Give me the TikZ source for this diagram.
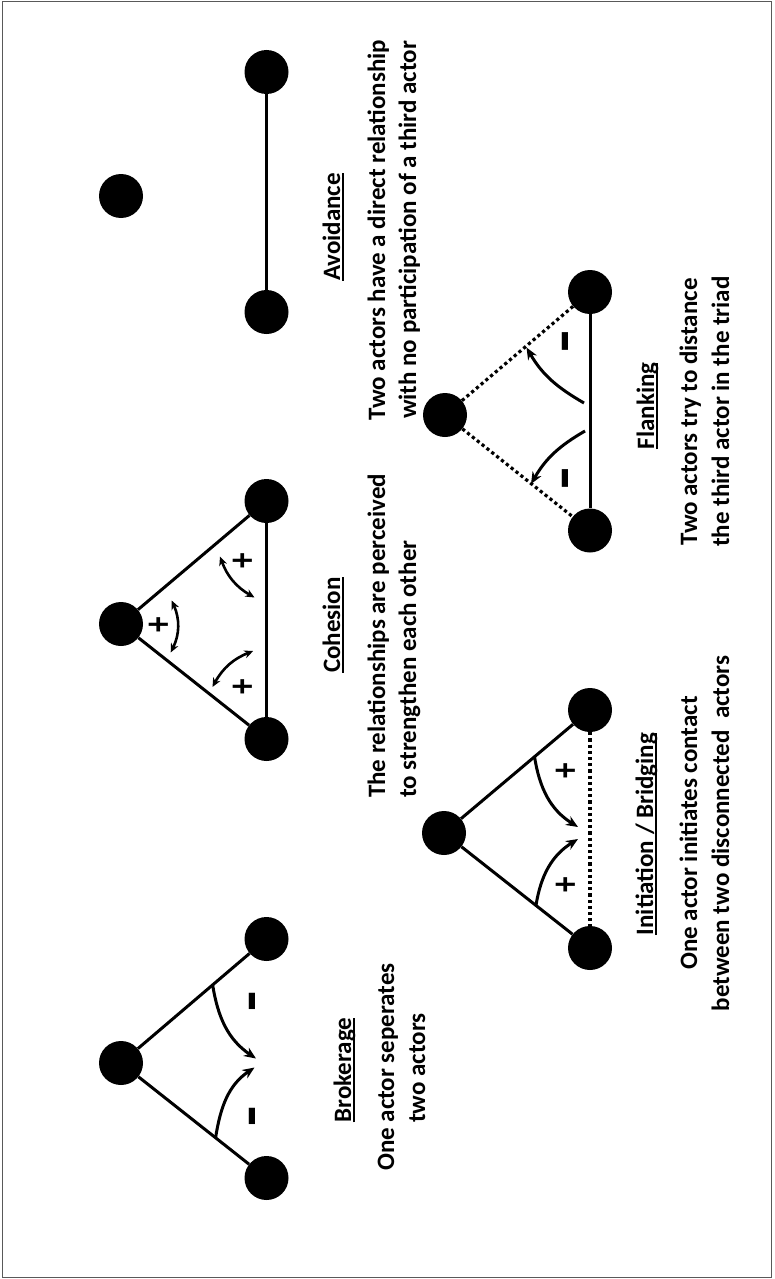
\documentclass[tikz,border=0pt]{standalone}
\usepackage{fontspec}
\setmainfont{Carlito}
\usetikzlibrary{arrows.meta,calc}
\newsavebox\ulsave
\newcommand{\myul}[1]{\sbox\ulsave{#1}\rlap{\rule[-3.5pt]{\wd\ulsave}{1.8pt}}\usebox\ulsave}
\begin{document}
\begin{tikzpicture}[x=1pt,y=1pt,
  actor/.style={circle,fill=black,minimum size=44pt,inner sep=0pt},
  tie/.style={line width=3pt},
  weak/.style={line width=3.2pt,dash pattern=on 3.2pt off 3pt},
  push/.style={line width=3pt,-{Stealth[length=12pt,width=10pt]}},
  mutual/.style={line width=2.6pt,{Stealth[length=9pt,width=8pt]}-{Stealth[length=9pt,width=8pt]}},
  lbl/.style={rotate=90,anchor=base,font=\fontsize{25}{31}\selectfont\bfseries,inner sep=0pt},
  lblw/.style={lbl,anchor=base west},
  plus/.style={rotate=90,inner sep=0pt,font=\fontsize{31}{31}\selectfont\bfseries},
  minus/.style={rotate=90,inner sep=0pt,font=\fontsize{30}{30}\selectfont\bfseries}]
\useasboundingbox (0,0) rectangle (774,-1279);
\draw[black!65,line width=1.2pt] (2.5,-1.5) rectangle (771.5,-1277.5);

% Avoidance
\node[actor] (a1) at (266.5,-72) {};
\node[actor] (a2) at (266.5,-312) {};
\node[actor] (a3) at (121,-196) {};
\draw[tie] (a1) -- (a2);
\node[lbl] (avt) at (340,-227) {\myul{Avoidance}};
\node[lbl] (av1) at (385,-230) {Two actors have a direct relationship};
\node[lbl] (av2) at (416,-230) {with no participation of a third actor};

% Cohesion
\node[actor] (c1) at (266.5,-501) {};
\node[actor] (c2) at (121,-624) {};
\node[actor] (c3) at (266.5,-739) {};
\draw[tie] (c2) -- (c1);
\draw[tie] (c2) -- (c3);
\draw[tie] (c1) -- (c3);
\coordinate (cm1a) at (171.7,-600.5);
\coordinate (cm1b) at (170.7,-652.5);
\coordinate (cm2a) at (220,-556.5);
\coordinate (cm2b) at (254.5,-597.5);
\coordinate (cm3a) at (212.5,-687);
\coordinate (cm3b) at (253.2,-651);
\draw[mutual] (cm1a) to[bend left=25] (cm1b);
\draw[mutual] (cm2a) to[bend right=20] (cm2b);
\draw[mutual] (cm3a) to[bend left=20] (cm3b);
\node[plus] (cp1) at (160.7,-624.3) {\scalebox{1}[1.3]{+}};
\node[plus] (cp2) at (244,-560.7) {\scalebox{1}[1.3]{+}};
\node[plus] (cp3) at (244.3,-686.7) {\scalebox{1}[1.3]{+}};
\node[lbl] (cot) at (340,-625) {\myul{Cohesion}};
\node[lblw] (co1) at (385,-798) {The relationships are perceived};
\node[lblw] (co2) at (416,-798) {to strengthen each other};

% Brokerage
\node[actor] (b1) at (266.5,-939) {};
\node[actor] (b2) at (121,-1063) {};
\node[actor] (b3) at (266.5,-1178) {};
\draw[tie] (b2) -- (b1);
\draw[tie] (b2) -- (b3);
\coordinate (bp1a) at ($(b2)!0.63!(b1)$);
\coordinate (bp1b) at (256,-1058.5);
\coordinate (bp2a) at ($(b2)!0.65!(b3)$);
\coordinate (bp2b) at (254.5,-1067.5);
\draw[push] (bp1a) to[out=-81,in=146] (bp1b);
\draw[push] (bp2a) to[out=81,in=-146] (bp2b);
\node[minus] (bm1) at (259.5,-1001) {\scalebox{2.2}[2]{-}};
\node[minus] (bm2) at (259.5,-1116) {\scalebox{2.2}[2]{-}};
\node[lbl] (brt) at (351,-1070) {\myul{Brokerage}};
\node[lbl] (br1) at (394,-1067) {One actor seperates};
\node[lbl] (br2) at (425,-1068) {two actors};

% Initiation / Bridging
\node[actor] (i1) at (590,-710) {};
\node[actor] (i2) at (444,-833) {};
\node[actor] (i3) at (590,-948) {};
\draw[tie] (i2) -- (i1);
\draw[tie] (i2) -- (i3);
\draw[weak] (i1) -- (i3);
\coordinate (ip1a) at ($(i2)!0.62!(i1)$);
\coordinate (ip1b) at (578,-827);
\coordinate (ip2a) at ($(i2)!0.63!(i3)$);
\coordinate (ip2b) at (578,-839);
\draw[push] (ip1a) to[out=-81,in=148] (ip1b);
\draw[push] (ip2a) to[out=81,in=-148] (ip2b);
\node[plus] (ipl1) at (567.7,-771) {\scalebox{1}[1.3]{+}};
\node[plus] (ipl2) at (567.7,-885) {\scalebox{1}[1.3]{+}};
\node[lbl] (int) at (653,-834) {\myul{Initiation / Bridging}};
\node[lbl] (in1) at (697,-833) {One actor initiates contact};
\node[lbl] (in2) at (729,-833.5) {between two disconnected\ \ actors};

% Flanking
\node[actor] (f1) at (590,-292) {};
\node[actor] (f2) at (445,-415) {};
\node[actor] (f3) at (590,-530.5) {};
\draw[tie] (f1) -- (f3);
\draw[weak] (f2) -- (f1);
\draw[weak] (f2) -- (f3);
\coordinate (fp1a) at (584,-403);
\coordinate (fp1b) at (526.5,-347.5);
\coordinate (fp2a) at (585,-431);
\coordinate (fp2b) at (531,-484);
\draw[push] (fp1a) to[out=150,in=-60] (fp1b);
\draw[push] (fp2a) to[out=-150,in=60] (fp2b);
\node[minus] (fm1) at (572.5,-341.7) {\scalebox{2.4}[2]{-}};
\node[minus] (fm2) at (572.5,-478.3) {\scalebox{2.4}[2]{-}};
\node[lbl] (flt) at (654,-406) {\myul{Flanking}};
\node[lbl] (fl1) at (697,-412) {Two actors try to distance};
\node[lbl] (fl2) at (729,-411.5) {the third actor in the triad};
\end{tikzpicture}
\end{document}
